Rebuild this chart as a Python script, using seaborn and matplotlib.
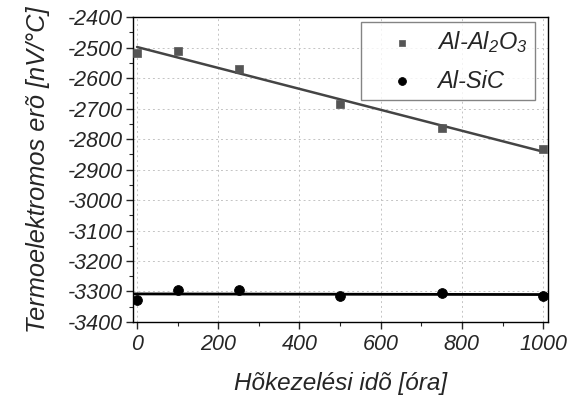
import matplotlib
matplotlib.use('Agg')
import matplotlib.pyplot as plt
import seaborn as sns
import pandas as pd
from matplotlib.ticker import MultipleLocator

# data
hours = [0, 100, 250, 500, 750, 1000]
al2o3 = [-2518, -2511, -2570, -2685, -2764, -2833]
sic = [-3328, -3295, -3295, -3315, -3305, -3315]

sns.set_style('ticks')
plt.rcParams['font.family'] = ['Liberation Sans', 'DejaVu Sans']
plt.rcParams['font.style'] = 'italic'
plt.rcParams['axes.unicode_minus'] = False
plt.rcParams['mathtext.fontset'] = 'custom'
plt.rcParams['mathtext.rm'] = 'Liberation Sans:italic'
plt.rcParams['mathtext.it'] = 'Liberation Sans:italic'
plt.rcParams['mathtext.default'] = 'it'

df = pd.DataFrame({'hours': hours, 'al2o3': al2o3, 'sic': sic})

fig = plt.figure(figsize=(5.79, 3.98), dpi=100)
ax = fig.add_axes([0.2297, 0.191, 0.7168, 0.766])

# fitted lines
sns.regplot(data=df, x='hours', y='al2o3', ax=ax, scatter=False, ci=None,
            line_kws={'color': '#444444', 'lw': 1.8})
sns.regplot(data=df, x='hours', y='sic', ax=ax, scatter=False, ci=None, truncate=False,
            line_kws={'color': 'black', 'lw': 2.0})

# measured points
sns.scatterplot(data=df, x='hours', y='al2o3', ax=ax, marker='s', s=38,
                color='#555555', edgecolor='#555555', label=r'Al-Al$_2$O$_3$', zorder=5)
sns.scatterplot(data=df, x='hours', y='sic', ax=ax, marker='o', s=50,
                color='black', edgecolor='black', label='Al-SiC', zorder=5)

ax.set_xlim(-10, 1012)
ax.set_ylim(-3400, -2400)
ax.xaxis.set_major_locator(MultipleLocator(200))
ax.xaxis.set_minor_locator(MultipleLocator(100))
ax.yaxis.set_major_locator(MultipleLocator(100))
ax.yaxis.set_minor_locator(MultipleLocator(50))
ax.grid(True, which='major', ls=(0, (2, 3)), color='#c4c4c4', lw=0.7)
ax.tick_params(axis='both', which='major', labelsize=15.5, direction='out', length=5,
               width=1, pad=2)
ax.tick_params(axis='x', which='major', pad=4)
ax.tick_params(axis='both', which='minor', direction='out', length=3, width=0.8)
for sp in ax.spines.values():
    sp.set_color('black')
    sp.set_linewidth(1.0)

ax.set_xlabel('Hõkezelési idõ [óra]', fontsize=17.5, labelpad=12)
ax.set_ylabel('Termoelektromos erõ [nV/°C]', fontsize=18.3, labelpad=13)

leg = ax.legend(loc='upper right', fontsize=17, frameon=True, fancybox=False,
                edgecolor='#666666', borderpad=0.3, handletextpad=0.05,
                handlelength=2.9, labelspacing=0.62, markerscale=0.8,
                borderaxespad=0, bbox_to_anchor=(0.969, 0.984))
leg.get_frame().set_linewidth(1.0)

fig.savefig('out.png', dpi=100)
